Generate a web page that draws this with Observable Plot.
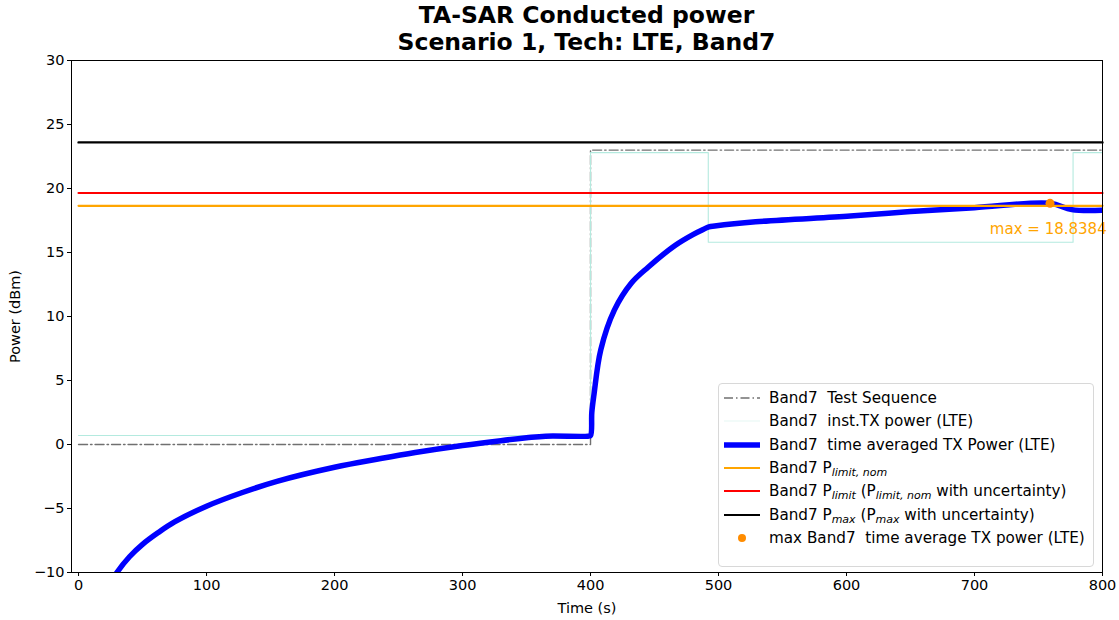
<!DOCTYPE html>
<html><head><meta charset="utf-8">
<script src="https://cdn.jsdelivr.net/npm/d3@7"></script>
<script src="https://cdn.jsdelivr.net/npm/@observablehq/plot@0.6"></script>
<style>
body{margin:0;background:#fff;}
#wrap{position:relative;width:1119px;height:620px;font-family:"DejaVu Sans",sans-serif;color:#000;}
#title{box-sizing:border-box;width:1119px;height:52px;padding-left:71px;padding-right:17px;text-align:center;font-weight:bold;font-size:23.5px;line-height:27px;padding-top:2px;overflow:visible;}
#legend{position:absolute;left:718px;top:383px;width:376px;height:184px;box-sizing:border-box;border:1px solid #d8d8d8;border-radius:4px;background:rgba(255,255,255,0.8);font-size:15.2px;}
.row{position:absolute;left:0;height:22px;display:flex;align-items:center;white-space:nowrap;}
.row svg{width:40px;height:22px;margin-left:3px;margin-right:7px;}
</style></head>
<body>
<div id="wrap">
<div id="title">TA-SAR Conducted power<br>Scenario 1, Tech: LTE, Band7</div>
<div id="chart"></div>
<div id="legend"></div>
</div>
<script>
// ---- data ----
const xTicks = [0,100,200,300,400,500,600,700,800];
const yTicks = [-10,-5,0,5,10,15,20,25,30];

const seqTime = [0,400,400,800];
const seqPower = [0,0,23,23];

const instTime = [0,400,400,492,492,777,777,800];
const instPower = [0.7,0.7,22.8,22.8,15.8,15.8,22.8,22.8];

const avgTime = [22,30,40,50,62,75,100,128,155,200,236,263,300,330,350,365,398,400,401,402.7,408,418.6,431.8,445,466,480,488,492.5,497,529,603,650,700,759,776,800];
const avgPower = [-11.4,-10,-8.75,-7.8,-6.9,-6.05,-4.82,-3.75,-2.88,-1.78,-1.1,-0.63,-0.08,0.3,0.52,0.65,0.65,0.7,2.5,3.9,7.4,10.5,12.6,13.85,15.55,16.4,16.8,17.0,17.07,17.4,17.85,18.2,18.5,18.84,18.35,18.3];

const limitTime = [0,800];
const pLimitNom = 18.65;
const pLimit = 19.65;
const pMax = 23.6;

const maxPoint = {t:759, p:18.8384};
const maxLabel = "max = 18.8384";
const maxLabelPos = {t:712, p:16.8};

// ---- build tables ----
const seq = seqTime.map((t,i)=>({t, p:seqPower[i]}));
const inst = instTime.map((t,i)=>({t, p:instPower[i]}));
const avg = avgTime.map((t,i)=>({t, p:avgPower[i]}));
const hl = (v)=>limitTime.map(t=>({t, p:v}));

const chart = Plot.plot({
  width:1119, height:568,
  marginLeft:71, marginRight:17, marginTop:8, marginBottom:48,
  x:{domain:[-5.5,800], label:null},
  y:{domain:[-10,30], label:null},
  style:{fontFamily:"DejaVu Sans, sans-serif", fontSize:"14.5px", color:"#000", background:"#fff", overflow:"visible"},
  marks:[
    Plot.line(seq, {x:"t", y:"p", stroke:"#707070", strokeWidth:1.4, strokeDasharray:"9,3,1.5,3"}),
    Plot.line(inst, {x:"t", y:"p", stroke:"#b4eadf", strokeWidth:1.1}),
    Plot.line(avg, {x:"t", y:"p", stroke:"#0000ff", strokeWidth:5.5, curve:"catmull-rom", clip:true}),
    Plot.line(hl(pLimitNom), {x:"t", y:"p", stroke:"#ffa500", strokeWidth:2.2}),
    Plot.line(hl(pLimit), {x:"t", y:"p", stroke:"#ff0000", strokeWidth:2.2}),
    Plot.line(hl(pMax), {x:"t", y:"p", stroke:"#000000", strokeWidth:2.4}),
    Plot.dot([maxPoint], {x:"t", y:"p", r:4.5, fill:"#ff8c00", stroke:"none", symbol:"circle"}),
    Plot.text([maxPoint], {x:()=>maxLabelPos.t, y:()=>maxLabelPos.p, text:()=>maxLabel, fill:"#ffa500", textAnchor:"start", fontSize:15, clip:false}),
    Plot.frame({stroke:"#000", strokeWidth:1}),
    Plot.axisX({ticks:xTicks, tickSize:4, tickPadding:3, label:"Time (s)", labelAnchor:"center", labelArrow:"none", labelOffset:40}),
    Plot.axisY({ticks:yTicks, tickSize:4, tickPadding:3, label:"Power (dBm)", labelAnchor:"center", labelArrow:"none", labelOffset:62})
  ]
});
document.getElementById("chart").appendChild(chart);

// ---- legend ----
const legendItems = [
  {kind:"line", color:"#707070", width:1.4, dash:"9,3,1.5,3", html:"Band7&nbsp; Test Sequence"},
  {kind:"line", color:"#e6f7f3", width:1.2, dash:null, html:"Band7&nbsp; inst.TX power (LTE)"},
  {kind:"line", color:"#0000ff", width:5.5, dash:null, html:"Band7&nbsp; time averaged TX Power (LTE)"},
  {kind:"line", color:"#ffa500", width:2, dash:null, html:"Band7 P<sub><i>limit, nom</i></sub>"},
  {kind:"line", color:"#ff0000", width:2, dash:null, html:"Band7 P<sub><i>limit</i></sub> (P<sub><i>limit, nom</i></sub> with uncertainty)"},
  {kind:"line", color:"#000000", width:2, dash:null, html:"Band7 P<sub><i>max</i></sub> (P<sub><i>max</i></sub> with uncertainty)"},
  {kind:"dot", color:"#ff8c00", html:"max Band7&nbsp; time average TX power (LTE)"}
];
const lg = document.getElementById("legend");
legendItems.forEach((it,i)=>{
  const row = document.createElement("div");
  row.className = "row";
  row.style.top = (3 + i*23.3) + "px";
  const handle = it.kind === "dot"
    ? `<svg><circle cx="20" cy="11" r="4" fill="${it.color}"/></svg>`
    : `<svg><line x1="2" x2="38" y1="11" y2="11" stroke="${it.color}" stroke-width="${it.width}" ${it.dash?`stroke-dasharray="${it.dash}"`:""}/></svg>`;
  row.innerHTML = handle + `<span>${it.html}</span>`;
  lg.appendChild(row);
});
lg.querySelectorAll("sub").forEach(s=>{s.style.fontSize="11px";s.style.verticalAlign="-3px";s.style.lineHeight="0";});
</script>
</body></html>
